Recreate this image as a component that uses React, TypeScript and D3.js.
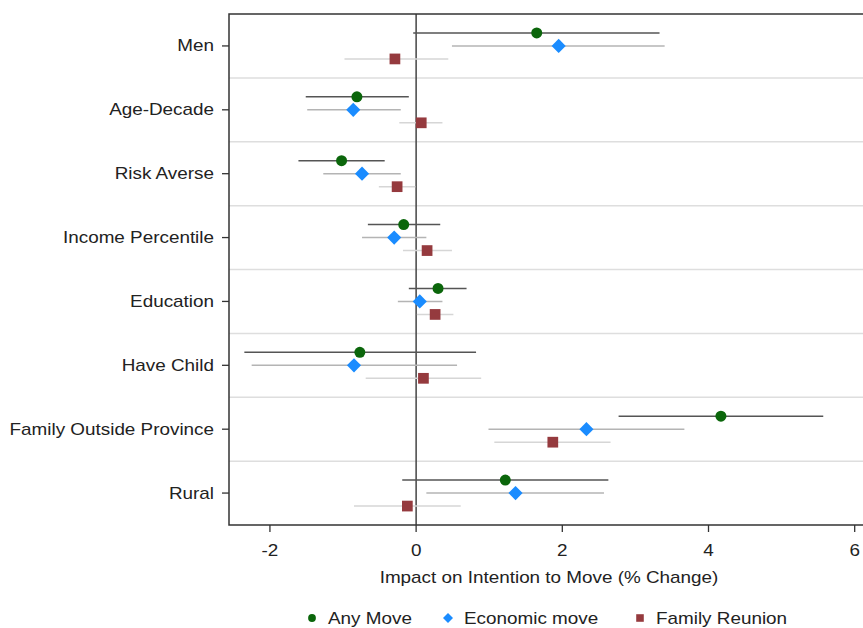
import React, { useEffect, useRef } from 'react';
import * as d3 from 'd3';

const categories = ['Men', 'Age-Decade', 'Risk Averse', 'Income Percentile', 'Education', 'Have Child', 'Family Outside Province', 'Rural'];

// point estimate, lower CI, upper CI
const anyMove = [
  [1.65, -0.04, 3.33], [-0.81, -1.51, -0.10], [-1.02, -1.61, -0.43], [-0.17, -0.66, 0.33],
  [0.30, -0.10, 0.69], [-0.77, -2.35, 0.82], [4.17, 2.77, 5.57], [1.22, -0.19, 2.63],
];
const economicMove = [
  [1.95, 0.49, 3.40], [-0.86, -1.49, -0.21], [-0.74, -1.27, -0.21], [-0.30, -0.74, 0.14],
  [0.05, -0.25, 0.36], [-0.85, -2.25, 0.56], [2.33, 0.99, 3.67], [1.36, 0.14, 2.57],
];
const familyReunion = [
  [-0.29, -0.98, 0.44], [0.07, -0.23, 0.36], [-0.26, -0.51, -0.01], [0.15, -0.18, 0.49],
  [0.26, 0.01, 0.51], [0.10, -0.69, 0.89], [1.87, 1.07, 2.66], [-0.12, -0.85, 0.61],
];
const xTicks = [-2, 0, 2, 4, 6];

const series = [
  { name: 'Any Move', data: anyMove, color: '#0b660b', ci: '#555555', shape: d3.symbolCircle, size: 95, rot: 0, off: -13 },
  { name: 'Economic move', data: economicMove, color: '#1a8cff', ci: '#b4b4b4', shape: d3.symbolSquare, size: 100, rot: 45, off: 0 },
  { name: 'Family Reunion', data: familyReunion, color: '#953a3e', ci: '#d6d6d6', shape: d3.symbolSquare, size: 115, rot: 0, off: 13 },
];

const App = () => {
  const ref = useRef<SVGSVGElement>(null);

  useEffect(() => {
    const svg = d3.select(ref.current);
    svg.selectAll('*').remove();
    const font = 'Liberation Sans, Arial, sans-serif';
    const fs = 16;
    const stretch = 1.18;

    const label = (xp: number, yp: number, txt: string, anchor: string) =>
      svg.append('text')
        .attr('transform', `translate(${xp},${yp}) scale(${stretch},1)`)
        .attr('text-anchor', anchor)
        .attr('font-family', font).attr('font-size', fs).attr('fill', '#222')
        .text(txt);

    const left = 229, top = 14, bottom = 525, right = 862;
    const x = d3.scaleLinear().domain([-2.56, 6.1]).range([left, right]);
    const y = d3.scaleBand().domain(categories).range([top, bottom]);
    const yc = (c: string) => y(c)! + y.bandwidth() / 2;

    // separators
    svg.append('g').selectAll('line')
      .data(categories.slice(1))
      .join('line')
      .attr('x1', left).attr('x2', 863)
      .attr('y1', d => y(d)!).attr('y2', d => y(d)!)
      .attr('stroke', '#dedede').attr('stroke-width', 1.5);

    // zero line
    svg.append('line')
      .attr('x1', x(0)).attr('x2', x(0)).attr('y1', top).attr('y2', bottom)
      .attr('stroke', '#444').attr('stroke-width', 1.5);

    series.forEach(s => {
      const g = svg.append('g');
      g.selectAll('line')
        .data(s.data)
        .join('line')
        .attr('x1', d => x(d[1])).attr('x2', d => x(d[2]))
        .attr('y1', (d, i) => yc(categories[i]) + s.off)
        .attr('y2', (d, i) => yc(categories[i]) + s.off)
        .attr('stroke', s.ci).attr('stroke-width', 1.5);
      g.selectAll('path')
        .data(s.data)
        .join('path')
        .attr('d', d3.symbol(s.shape, s.size)())
        .attr('transform', (d, i) => `translate(${x(d[0])},${yc(categories[i]) + s.off}) rotate(${s.rot})`)
        .attr('fill', s.color);
    });

    // frame
    svg.append('path')
      .attr('d', `M870,${top}H${left}V${bottom}H870`)
      .attr('fill', 'none').attr('stroke', '#333').attr('stroke-width', 1.5);

    // y ticks + labels
    svg.append('g').selectAll('line')
      .data(categories)
      .join('line')
      .attr('x1', left - 7).attr('x2', left)
      .attr('y1', d => yc(d)).attr('y2', d => yc(d))
      .attr('stroke', '#333').attr('stroke-width', 1.3);
    categories.forEach(c => label(left - 15, yc(c) + 5.5, c, 'end'));

    // x ticks + labels
    svg.append('g').selectAll('line')
      .data(xTicks)
      .join('line')
      .attr('x1', d => x(d)).attr('x2', d => x(d))
      .attr('y1', bottom).attr('y2', bottom + 7)
      .attr('stroke', '#333').attr('stroke-width', 1.3);
    const fmt = d3.format('d');
    xTicks.forEach(t => label(x(t), 556, fmt(t).replace('\u2212', '-'), 'middle'));

    label(549, 583, 'Impact on Intention to Move (% Change)', 'middle');

    // legend
    const legendX = [312, 448, 640];
    series.forEach((s, i) => {
      svg.append('path')
        .attr('d', d3.symbol(s.shape, s.size * 0.5)())
        .attr('transform', `translate(${legendX[i]},618) rotate(${s.rot})`)
        .attr('fill', s.color);
      label(legendX[i] + 16, 624, s.name, 'start');
    });
  }, []);

  return <svg ref={ref} width={863} height={628} style={{ position: 'absolute', left: 0, top: 0, background: '#fff' }} />;
};

export default App;
